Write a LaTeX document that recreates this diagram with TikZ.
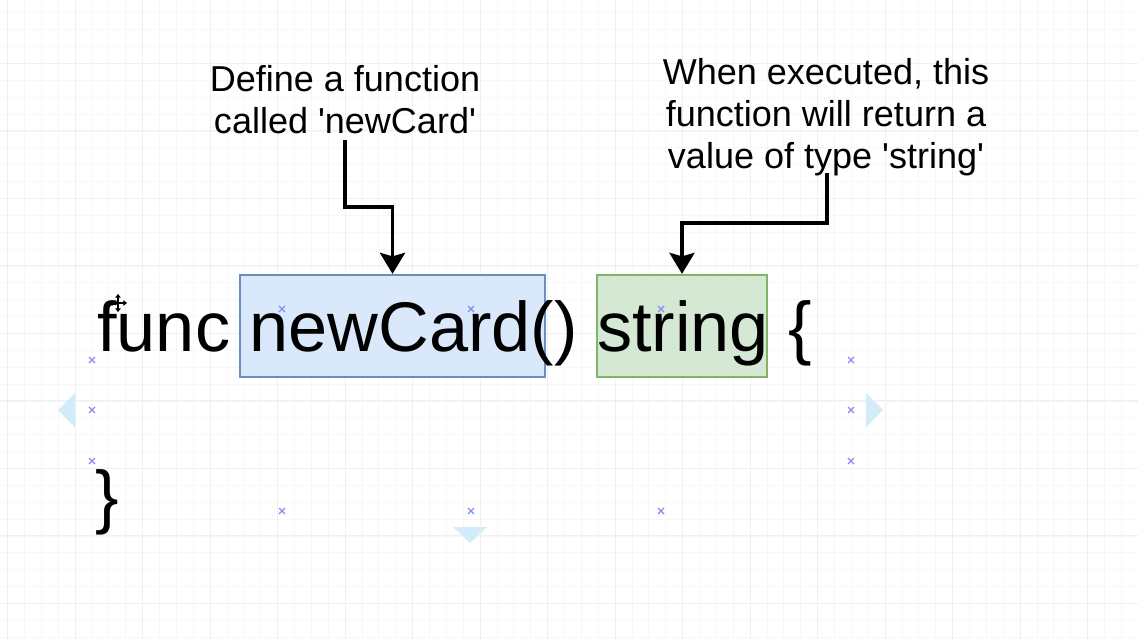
\documentclass[tikz,border=0pt]{standalone}
\usepackage{fontspec}
\setmainfont{Liberation Sans}
\usetikzlibrary{arrows.meta,positioning}
\definecolor{boxblue}{HTML}{DAE8FC}
\definecolor{boxblueline}{HTML}{6C8EBF}
\definecolor{boxgreen}{HTML}{D5E8D4}
\definecolor{boxgreenline}{HTML}{82B366}
\definecolor{handleblue}{HTML}{D3ECFA}
\definecolor{pointblue}{HTML}{8A8AF0}
\newcommand{\sq}{\textquotesingle}
\begin{document}
\begin{tikzpicture}
        [x=0.02cm,y=-0.02cm,
        codetext/.style={anchor=base west,inner sep=0pt,font=\fontsize{40}{48}\selectfont},
        notetext/.style={anchor=north,align=center,inner sep=0pt,font=\fontsize{20.5}{24}\selectfont},
        bluebox/.style={draw=boxblueline,fill=boxblue,line width=1.3pt,inner sep=0pt,minimum width=6.1cm,minimum height=2.04cm},
        greenbox/.style={draw=boxgreenline,fill=boxgreen,line width=1.3pt,inner sep=0pt,minimum width=3.4cm,minimum height=2.04cm},
        callarrow/.style={line width=2.2pt,-{Stealth[length=0.42cm,width=0.5cm,inset=0.07cm]}},
        minorgrid/.style={draw=black!3,line width=0.4pt},
        majorgrid/.style={draw=black!6,line width=0.5pt},
        pointmark/.style={draw=pointblue,line width=0.7pt},
        handle/.style={fill=handleblue}]
        \useasboundingbox (0,0) rectangle (1138,639);
        \fill[white] (0,0) rectangle (1138,639);
        %% grid
        \foreach \i in {0,...,67}
        {
          \draw[minorgrid] (7.5+\i*16.875,0) -- (7.5+\i*16.875,639);
        }
        \foreach \i in {0,...,38}
        {
          \draw[minorgrid] (0,12.75+\i*16.875) -- (1138,12.75+\i*16.875);
        }
        \foreach \i in {0,...,16}
        {
          \draw[majorgrid] (7.5+\i*67.5,0) -- (7.5+\i*67.5,639);
        }
        \foreach \i in {0,...,9}
        {
          \draw[majorgrid] (0,-4.5+\i*67.5) -- (1138,-4.5+\i*67.5);
        }
        %% boxes
        \node (newcardbox) at (392.5,326) [bluebox] {};
        \node (stringbox) at (682,326) [greenbox] {};
        %% code
        \node (codeline) at (97,351) [codetext] {func newCard() string \{};
        \node (closebrace) at (95,520) [codetext] {\}};
        %% notes
        \node (deftext) at (345,65) [notetext] {Define a function\\called \sq newCard\sq};
        \node (rettext) at (826,58) [notetext] {When executed, this\\function will return a\\value of type \sq string\sq};
        \coordinate (defstart) at (345,140);
        \coordinate (retstart) at (827,173);
        %% arrows
        \draw[callarrow] (defstart) -- ++(0,67) -| (newcardbox.north);
        \draw[callarrow] (retstart) -- ++(0,50) -| (stringbox.north);
        %% selection handles
        \foreach \x/\y in {92/360, 92/410, 92/461, 282/511, 471/511, 661/511,
          851/360, 851/410, 851/461, 282/309, 471/309, 661/309}
        {
          \draw[pointmark] (\x-3,\y-3) -- (\x+3,\y+3) (\x-3,\y+3) -- (\x+3,\y-3);
        }
        \fill[handle] (75,393) -- (58,410) -- (75,427) -- cycle;
        \fill[handle] (866,393) -- (883,410) -- (866,427) -- cycle;
        \fill[handle] (453,527) -- (487,527) -- (470,543) -- cycle;
        %% move cursor
        \draw[line width=0.8pt,{Triangle[length=2pt,width=3pt]}-{Triangle[length=2pt,width=3pt]}] (109,303) -- (127,303);
        \draw[line width=0.8pt,{Triangle[length=2pt,width=3pt]}-{Triangle[length=2pt,width=3pt]}] (118,294) -- (118,312);
      \end{tikzpicture}
\end{document}
